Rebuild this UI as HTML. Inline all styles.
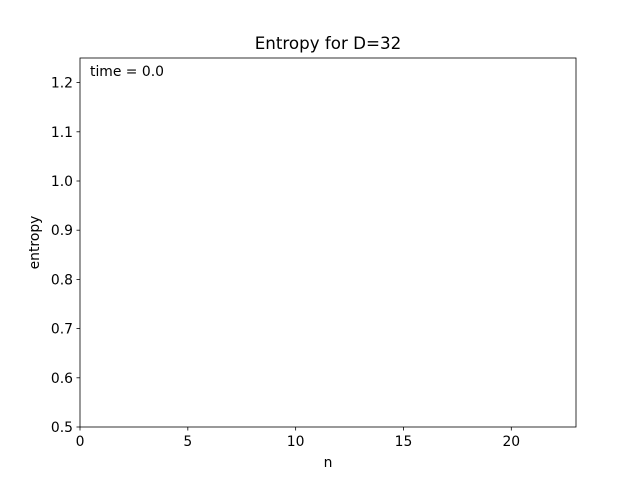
<!DOCTYPE html>
<html><head><meta charset="utf-8"><style>
html,body{margin:0;padding:0;background:#fff;}
svg{display:block;font-family:"DejaVu Sans","Liberation Sans",sans-serif;}
</style></head><body>
<svg id="chart" width="640" height="480">
<rect x="0" y="0" width="640" height="480" fill="#fff"/>
<text x="328" y="49" font-size="16.7" text-anchor="middle">Entropy for D=32</text>
<g id="xticks"></g>
<g id="yticks"></g>
<rect x="80" y="58" width="496" height="369" fill="none" stroke="#000" stroke-width="0.8"/>
<text x="90" y="76" font-size="13.9">time = 0.0</text>
<text x="328" y="467" font-size="13.9" text-anchor="middle">n</text>
<text transform="translate(39,242.5) rotate(-90)" font-size="13.9" text-anchor="middle">entropy</text>
</svg>
<script>
const xTicks = [0, 5, 10, 15, 20];
const yTicks = [0.5, 0.6, 0.7, 0.8, 0.9, 1.0, 1.1, 1.2];
const yTickLabels = ["0.5","0.6","0.7","0.8","0.9","1.0","1.1","1.2"];
const xDomain = [0, 23];
const yDomain = [0.5, 1.25];
const L=80,R=576,T=58,B=427;
function xs(v){return L+(v-xDomain[0])/(xDomain[1]-xDomain[0])*(R-L);}
function ys(v){return B-(v-yDomain[0])/(yDomain[1]-yDomain[0])*(B-T);}
const NS="http://www.w3.org/2000/svg";
const gx=document.getElementById('xticks'), gy=document.getElementById('yticks');
xTicks.forEach(v=>{
  const l=document.createElementNS(NS,'line');
  l.setAttribute('x1',xs(v));l.setAttribute('x2',xs(v));l.setAttribute('y1',B);l.setAttribute('y2',B+3.5);
  l.setAttribute('stroke','#000');l.setAttribute('stroke-width','0.8');
  
  
  gx.appendChild(l);
  const t=document.createElementNS(NS,'text');
  t.setAttribute('x',xs(v));t.setAttribute('y',B+19);t.setAttribute('font-size','13.9');t.setAttribute('text-anchor','middle');
  t.textContent=String(v);
  
  
  gx.appendChild(t);
});
yTicks.forEach((v,i)=>{
  const l=document.createElementNS(NS,'line');
  l.setAttribute('x1',L-3.5);l.setAttribute('x2',L);l.setAttribute('y1',ys(v));l.setAttribute('y2',ys(v));
  l.setAttribute('stroke','#000');l.setAttribute('stroke-width','0.8');
  
  
  gy.appendChild(l);
  const t=document.createElementNS(NS,'text');
  t.setAttribute('x',L-7);t.setAttribute('y',ys(v)+5);t.setAttribute('font-size','13.9');t.setAttribute('text-anchor','end');
  t.textContent=yTickLabels[i];
  
  
  gy.appendChild(t);
});
</script>
</body></html>
